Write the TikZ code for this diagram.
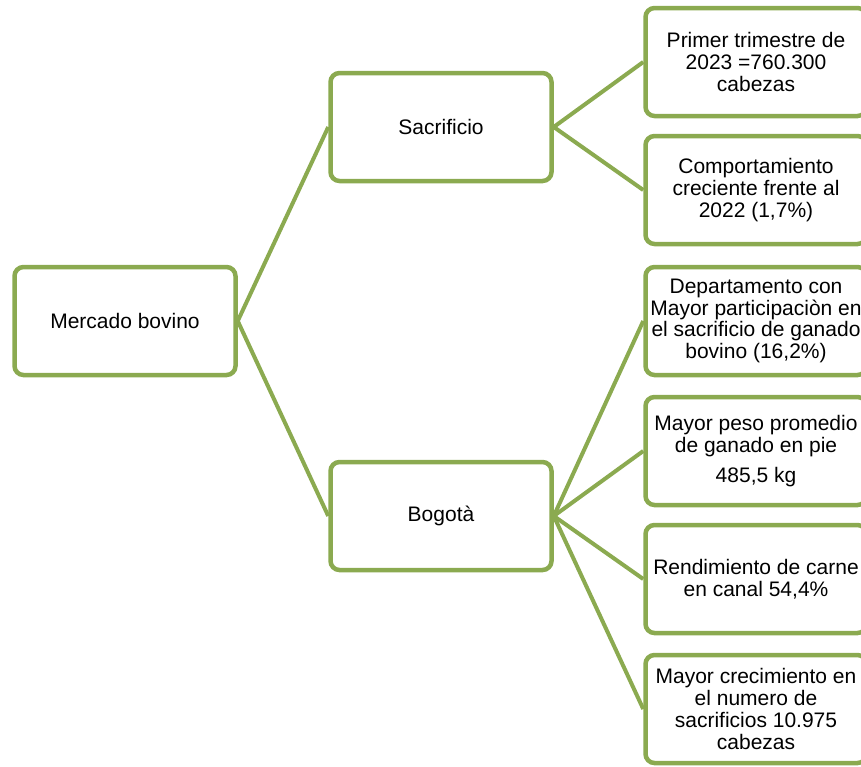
\documentclass[tikz,border=0pt]{standalone}
\usepackage{fontspec}
\setmainfont{Liberation Sans}
\usepackage{xcolor}
\usepackage{tikz}
\definecolor{olivegreen}{RGB}{139,170,80}

\begin{document}
\begin{tikzpicture}[x=1pt,y=-1pt,
  box/.style={draw=olivegreen,line width=4.5pt,rounded corners=9pt,fill=white,
    minimum width=221pt,minimum height=108pt,align=center,inner sep=0pt,
    font=\fontsize{21pt}{21.8pt}\selectfont},
  link/.style={draw=olivegreen,line width=4pt}]
\useasboundingbox (0,0) rectangle (861,766);
\clip (0,0) rectangle (861,766);

% Root and middle level
\node[box] (mercado) at (125,321) {Mercado bovino};
\node[box] (sacrificio) at (441,127) {Sacrificio};
\node[box] (bogota) at (441,516) {Bogot\`a};

% Right-hand column
\node[box] (primer) at (756,62) {Primer trimestre de\\2023 =760.300\\cabezas};
\node[box] (creciente) at (756,190) {Comportamiento\\creciente frente al\\2022 (1,7\%)};
\node[box] (depto) at (756,321) {Departamento con\\Mayor participaci\`on en\\el sacrificio de ganado\\bovino (16,2\%)};
\node[box] (peso) at (756,451) {Mayor peso promedio\\de ganado en pie\\[8pt]485,5 kg};
\node[box] (rendimiento) at (756,579) {Rendimiento de carne\\en canal 54,4\%};
\node[box] (crecimiento) at (756,709) {Mayor crecimiento en\\el numero de\\sacrificios 10.975\\cabezas};

% Connectors
\draw[link] (mercado.east) -- (sacrificio.west);
\draw[link] (mercado.east) -- (bogota.west);
\draw[link] (sacrificio.east) -- (primer.west);
\draw[link] (sacrificio.east) -- (creciente.west);
\foreach \leaf in {depto,peso,rendimiento,crecimiento}
  \draw[link] (bogota.east) -- (\leaf.west);
\end{tikzpicture}
\end{document}
